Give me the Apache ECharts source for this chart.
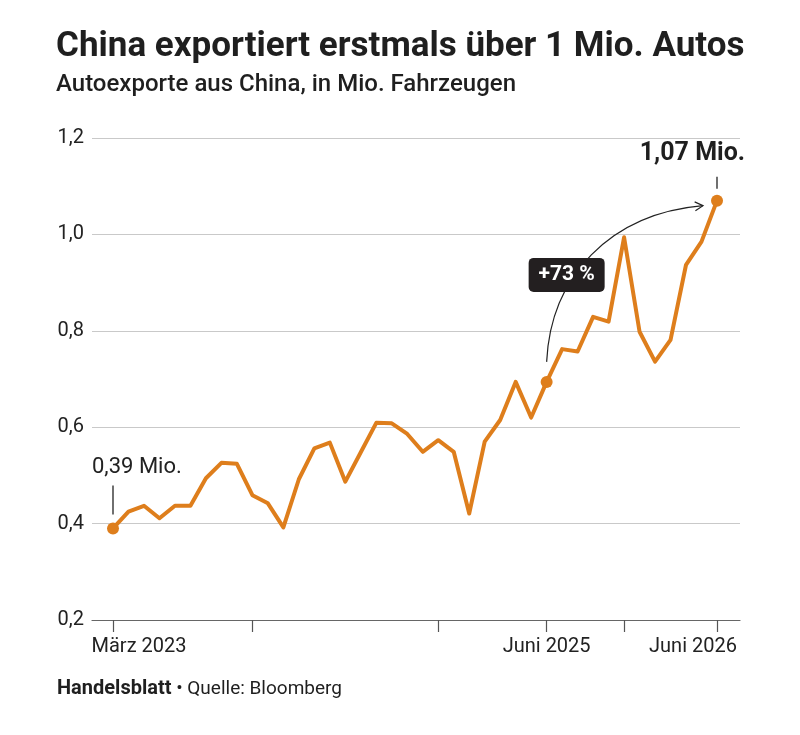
<!DOCTYPE html>
<html>
<head>
<meta charset="utf-8">
<script src="https://cdn.jsdelivr.net/npm/echarts@6/dist/echarts.min.js"></script>
<style>
html,body{margin:0;padding:0;background:#fff;}
#chart{width:800px;height:735px;}
</style>
</head>
<body>
<div id="chart"></div>
<script>
// ---- Data ----
const months = [
  'Mär 23','Apr 23','Mai 23','Jun 23','Jul 23','Aug 23','Sep 23','Okt 23','Nov 23','Dez 23',
  'Jan 24','Feb 24','Mär 24','Apr 24','Mai 24','Jun 24','Jul 24','Aug 24','Sep 24','Okt 24','Nov 24','Dez 24',
  'Jan 25','Feb 25','Mär 25','Apr 25','Mai 25','Jun 25','Jul 25','Aug 25','Sep 25','Okt 25','Nov 25','Dez 25',
  'Jan 26','Feb 26','Mär 26','Apr 26','Mai 26','Jun 26'
];
const exports = [
  0.39, 0.425, 0.437, 0.411, 0.437, 0.437, 0.494, 0.526, 0.524, 0.459,
  0.442, 0.392, 0.492, 0.556, 0.568, 0.487, 0.548, 0.609, 0.608, 0.586,
  0.549, 0.573, 0.549, 0.421, 0.570, 0.615, 0.694, 0.620, 0.694, 0.762,
  0.757, 0.829, 0.819, 0.994, 0.798, 0.736, 0.781, 0.937, 0.985, 1.07
];
const tickIdx = [0, 9, 21, 28, 33, 39];
const labelIdx = [0, 28, 39];
const labelText = ['März 2023', 'Juni 2025', 'Juni 2026'];
const markerIdx = [0, 28, 39];
const startLabel = '0,39 Mio.';
const endLabel = '1,07 Mio.';
const changeLabel = '+73 %';
const titleText = 'China exportiert erstmals über 1 Mio. Autos';
const subtitleText = 'Autoexporte aus China, in Mio. Fahrzeugen';
const brandText = 'Handelsblatt';
const sourceText = ' • Quelle: Bloomberg';

const FONT = 'Roboto, "Liberation Sans", sans-serif';
const ORANGE = '#de7e1c';
const INK = '#1f1f1f';

const chart = echarts.init(document.getElementById('chart'), null, {renderer: 'canvas'});

const seriesData = exports.map((v, i) => [i, v]);

const option = {
  backgroundColor: '#ffffff',
  animation: false,
  title: {
    text: titleText,
    subtext: subtitleText,
    left: 51,
    top: 25,
    itemGap: 8,
    textStyle: {fontFamily: FONT, fontWeight: 'bold', fontSize: 35, color: INK},
    subtextStyle: {fontFamily: FONT, fontWeight: 500, fontSize: 24, color: INK}
  },
  grid: {left: 92, right: 60, top: 138, bottom: 115, containLabel: false},
  xAxis: {
    type: 'value',
    min: -1.356,
    max: 40.485,
    splitLine: {show: false},
    axisLine: {show: true, onZero: false, lineStyle: {color: '#666', width: 1.2}},
    axisTick: {show: true, customValues: tickIdx, length: 12, lineStyle: {color: '#555', width: 1.2}},
    axisLabel: {
      show: true,
      customValues: labelIdx,
      margin: 17,
      fontFamily: FONT,
      fontSize: 20,
      color: '#222',
      formatter: function (v) {
        const k = labelIdx.indexOf(Math.round(v));
        if (k < 0) return '';
        if (k === 0) return '{l|' + labelText[k] + '}';
        if (k === labelIdx.length - 1) return '{r|' + labelText[k] + '}';
        return '{c|' + labelText[k] + '}';
      },
      rich: {
        l: {fontFamily: FONT, fontSize: 20, color: '#222', padding: [0, 0, 0, 52]},
        c: {fontFamily: FONT, fontSize: 20, color: '#222'},
        r: {fontFamily: FONT, fontSize: 20, color: '#222', padding: [0, 48, 0, 0]}
      }
    }
  },
  yAxis: {
    type: 'value',
    min: 0.2,
    max: 1.2,
    interval: 0.2,
    axisLine: {show: false},
    axisTick: {show: false},
    splitLine: {show: true, lineStyle: {color: '#c9c9c9', width: 1}},
    axisLabel: {
      margin: 8,
      fontFamily: FONT,
      fontSize: 20,
      color: '#222',
      formatter: v => v.toFixed(1).replace('.', ',')
    }
  },
  series: [{
    type: 'line',
    data: seriesData,
    lineStyle: {color: ORANGE, width: 4, join: 'round'},
    itemStyle: {color: ORANGE},
    symbol: 'circle',
    showSymbol: true,
    showAllSymbol: true,
    symbolSize: function (val, params) {
      return markerIdx.indexOf(params.dataIndex) >= 0 ? 12 : 0;
    },
    z: 5
  }]
};
chart.setOption(option);

// ---- Annotations positioned through the chart's scales ----
const p0 = chart.convertToPixel({gridIndex: 0}, [0, exports[0]]);
const pm = chart.convertToPixel({gridIndex: 0}, [markerIdx[1], exports[markerIdx[1]]]);
const pe = chart.convertToPixel({gridIndex: 0}, [exports.length - 1, exports[exports.length - 1]]);

const arrowStart = [pm[0], pm[1] - 20];
const arrowEnd = [pe[0] - 14, pe[1] + 5];
const cp1 = [pm[0] + 4, pm[1] - 105];
const cp2 = [pm[0] + 63, pe[1] + 13];

const dx = arrowEnd[0] - cp2[0], dy = arrowEnd[1] - cp2[1];
const len = Math.sqrt(dx * dx + dy * dy);
const ux = dx / len, uy = dy / len;
const ah = 8, aw = 4.5;
const headA = [arrowEnd[0] - ux * ah - uy * aw, arrowEnd[1] - uy * ah + ux * aw];
const headB = [arrowEnd[0] - ux * ah + uy * aw, arrowEnd[1] - uy * ah - ux * aw];

const boxCx = pm[0] + 20, boxCy = pm[1] - 107;
const boxW = 76, boxH = 34;

chart.setOption({
  graphic: [
    {type: 'line', shape: {x1: p0[0], y1: p0[1] - 14, x2: p0[0], y2: p0[1] - 43}, style: {stroke: '#222', lineWidth: 1.3}, z: 10},
    {type: 'text', style: {text: startLabel, x: p0[0] - 21, y: p0[1] - 61, textVerticalAlign: 'middle', fontFamily: FONT, fontSize: 22, fill: '#222'}, z: 10},
    {type: 'line', shape: {x1: pe[0], y1: pe[1] - 12, x2: pe[0], y2: pe[1] - 24}, style: {stroke: '#222', lineWidth: 1.3}, z: 10},
    {type: 'text', style: {text: endLabel, x: pe[0] + 28, y: pe[1] - 47, textAlign: 'right', textVerticalAlign: 'middle', fontFamily: FONT, fontWeight: 'bold', fontSize: 25, fill: INK}, z: 10},
    {type: 'bezierCurve', shape: {x1: arrowStart[0], y1: arrowStart[1], x2: arrowEnd[0], y2: arrowEnd[1], cpx1: cp1[0], cpy1: cp1[1], cpx2: cp2[0], cpy2: cp2[1]}, style: {stroke: '#222', lineWidth: 1.2, fill: null}, z: 8},
    {type: 'polyline', shape: {points: [headA, arrowEnd, headB]}, style: {stroke: '#222', lineWidth: 1.2, fill: null}, z: 8},
    {type: 'rect', shape: {x: boxCx - boxW / 2, y: boxCy - boxH / 2, width: boxW, height: boxH, r: 5}, style: {fill: '#231f20'}, z: 11},
    {type: 'text', style: {text: changeLabel, x: boxCx, y: boxCy, textAlign: 'center', textVerticalAlign: 'middle', fontFamily: FONT, fontWeight: 'bold', fontSize: 21, fill: '#ffffff'}, z: 12},
    {type: 'text', left: 57, top: 679, style: {
      text: '{b|' + brandText + '}{n|' + sourceText + '}',
      rich: {
        b: {fontFamily: FONT, fontWeight: 'bold', fontSize: 20, fill: INK, color: INK},
        n: {fontFamily: FONT, fontSize: 19, fill: INK, color: INK}
      }
    }, z: 10}
  ]
});
</script>
</body>
</html>
